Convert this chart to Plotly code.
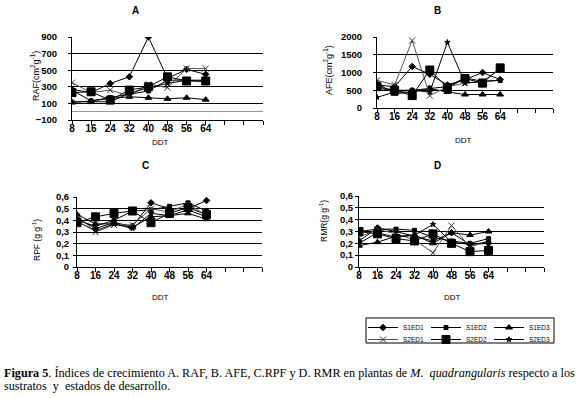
import plotly.graph_objects as go

W, H = 580, 398

ddt = [8, 16, 24, 32, 40, 48, 56, 64]
series_names = ["S1ED1", "S1ED2", "S1ED3", "S2ED1", "S2ED2", "S2ED3"]

# Panel A: RAF (cm2 g-1)
raf_s1ed1 = [270, 230, 340, 420, 900, 400, 510, 450]
raf_s1ed2 = [260, 130, 170, 210, 250, 380, 380, 360]
raf_s1ed3 = [110, 130, 160, 180, 168, 155, 168, 145]
raf_s2ed1 = [350, 230, 260, 190, 330, 290, 520, 520]
raf_s2ed2 = [230, 240, 140, 260, 300, 420, 370, 370]
raf_s2ed3 = [120, 120, 120, 220, 290, 340, 380, 380]

# Panel B: AFE (cm2 g-1)
afe_s1ed1 = [650, 600, 1170, 950, 650, 800, 1000, 800]
afe_s1ed2 = [550, 500, 500, 560, 600, 850, 750, 780]
afe_s1ed3 = [700, 400, 450, 550, 450, 380, 380, 380]
afe_s2ed1 = [780, 650, 1900, 350, 600, 700, 750, 1100]
afe_s2ed2 = [600, 500, 350, 1070, 570, 830, 700, 1130]
afe_s2ed3 = [300, 450, 500, 450, 1850, 700, 750, 780]

# Panel C: RPF (g g-1)
rpf_s1ed1 = [0.42, 0.33, 0.38, 0.35, 0.55, 0.50, 0.50, 0.57]
rpf_s1ed2 = [0.40, 0.35, 0.40, 0.48, 0.49, 0.52, 0.55, 0.48]
rpf_s1ed3 = [0.45, 0.37, 0.37, 0.34, 0.43, 0.44, 0.46, 0.41]
rpf_s2ed1 = [0.44, 0.30, 0.36, 0.36, 0.50, 0.47, 0.54, 0.44]
rpf_s2ed2 = [0.38, 0.43, 0.46, 0.48, 0.38, 0.46, 0.51, 0.45]
rpf_s2ed3 = [0.39, 0.31, 0.37, 0.33, 0.46, 0.44, 0.49, 0.43]

# Panel D: RMR (g g-1)
rmr_s1ed1 = [0.22, 0.33, 0.30, 0.26, 0.22, 0.29, 0.19, 0.20]
rmr_s1ed2 = [0.30, 0.32, 0.32, 0.31, 0.25, 0.22, 0.20, 0.24]
rmr_s1ed3 = [0.18, 0.21, 0.26, 0.27, 0.20, 0.29, 0.27, 0.30]
rmr_s2ed1 = [0.25, 0.32, 0.28, 0.23, 0.12, 0.35, 0.17, 0.22]
rmr_s2ed2 = [0.30, 0.28, 0.24, 0.22, 0.28, 0.20, 0.13, 0.14]
rmr_s2ed3 = [0.20, 0.29, 0.25, 0.27, 0.36, 0.21, 0.19, 0.21]

x_tickvals = [8, 16, 24, 32, 40, 48, 56, 64]
x_ticktext = ["8", "16", "24", "32", "40", "48", "56", "64"]
dec_vals = [0, 0.1, 0.2, 0.3, 0.4, 0.5, 0.6]
dec_text = ["0", "0,1", "0,2", "0,3", "0,4", "0,5", "0,6"]

styles = {
    "S1ED1": dict(symbol="diamond", size=5, color="black", lc="black"),
    "S1ED2": dict(symbol="square", size=4, color="black", lc="black"),
    "S1ED3": dict(symbol="triangle-up", size=6, color="black", lc="black"),
    "S2ED1": dict(symbol="x-thin-open", size=6, color="#333", lc="#555"),
    "S2ED2": dict(symbol="square", size=8, color="black", lc="black"),
    "S2ED3": dict(symbol="star", size=4, color="black", lc="black"),
}

panels = [
    ("x", "y", [raf_s1ed1, raf_s1ed2, raf_s1ed3, raf_s2ed1, raf_s2ed2, raf_s2ed3]),
    ("x2", "y2", [afe_s1ed1, afe_s1ed2, afe_s1ed3, afe_s2ed1, afe_s2ed2, afe_s2ed3]),
    ("x3", "y3", [rpf_s1ed1, rpf_s1ed2, rpf_s1ed3, rpf_s2ed1, rpf_s2ed2, rpf_s2ed3]),
    ("x4", "y4", [rmr_s1ed1, rmr_s1ed2, rmr_s1ed3, rmr_s2ed1, rmr_s2ed2, rmr_s2ed3]),
]

fig = go.Figure()
for pi, (xa, ya, data) in enumerate(panels):
    for name, vals in zip(series_names, data):
        st = styles[name]
        leg = "legend" if name.startswith("S1") else "legend2"
        fig.add_trace(go.Scatter(
            x=ddt, y=vals, name=name, xaxis=xa, yaxis=ya,
            mode="lines+markers",
            line=dict(color=st["lc"], width=1),
            marker=dict(symbol=st["symbol"], size=st["size"], color=st["color"],
                        line=dict(color=st["color"], width=1)),
            showlegend=(pi == 0), legend=leg,
        ))

def px_dom_x(a, b):
    return [a / W, b / W]

def px_dom_y(top, bottom):
    return [1 - bottom / H, 1 - top / H]

xtickfont = dict(family="Liberation Sans", size=10, color="black", weight="bold")
ytickfont = dict(family="Liberation Sans", size=9.5, color="black", weight="bold")

def xaxis(dom, anchor):
    return dict(domain=dom, anchor=anchor, range=[8, 88], tickmode="array",
                tickvals=x_tickvals, ticktext=x_ticktext, tickangle=0,
                showgrid=False, zeroline=False, showline=True, linecolor="black",
                linewidth=1, ticks="outside", ticklen=4, tickcolor="black",
                tickfont=xtickfont, automargin=False, ticklabelstandoff=-5,
                minor=dict(dtick=8, tick0=8, ticks="outside", ticklen=4,
                           tickcolor="black", showgrid=False))

def yaxis(dom, anchor, rng, dtick, fmt_vals=None, fmt_text=None, zeroline=False, standoff=0):
    d = dict(domain=dom, anchor=anchor, range=rng, showgrid=True,
             gridcolor="black", gridwidth=1, showline=True, linecolor="black",
             linewidth=1, ticks="outside", ticklen=3, tickcolor="black",
             tickfont=ytickfont, zeroline=zeroline, zerolinecolor="#999",
             zerolinewidth=1, automargin=False, ticklabelstandoff=standoff)
    if fmt_vals is not None:
        d.update(tickmode="array", tickvals=fmt_vals, ticktext=fmt_text)
    else:
        d.update(dtick=dtick, tick0=rng[0])
    return d

legend_common = dict(orientation="h", xanchor="left", yanchor="top",
                     font=dict(size=6.5, family="Liberation Sans", color="black"),
                     itemwidth=30, entrywidth=18, entrywidthmode="pixels",
                     bgcolor="rgba(0,0,0,0)", borderwidth=0, tracegroupgap=0)

fig.update_layout(
    width=W, height=H,
    margin=dict(l=0, r=0, t=0, b=0, pad=0, autoexpand=False),
    paper_bgcolor="white", plot_bgcolor="white",
    font=dict(family="Liberation Sans", color="black"),
    xaxis=xaxis(px_dom_x(72, 263), "y"),
    yaxis=yaxis(px_dom_y(37, 120), "x", [-100, 900], 200, zeroline=True, standoff=9),
    xaxis2=xaxis(px_dom_x(377, 553), "y2"),
    yaxis2=yaxis(px_dom_y(37, 108), "x2", [0, 2000], 500, standoff=9),
    xaxis3=xaxis(px_dom_x(77, 262), "y3"),
    yaxis3=yaxis(px_dom_y(197, 267), "x3", [0, 0.6], 0.1, dec_vals, dec_text, standoff=2),
    xaxis4=xaxis(px_dom_x(359, 544), "y4"),
    yaxis4=yaxis(px_dom_y(196, 267), "x4", [0, 0.6], 0.1, dec_vals, dec_text),
    legend=dict(legend_common, x=363 / W, y=1 - 313 / H),
    legend2=dict(legend_common, x=363 / W, y=1 - 325 / H),
    shapes=[dict(type="rect", xref="paper", yref="paper",
                 x0=366 / W, x1=554 / W, y0=1 - 343 / H, y1=1 - 318 / H,
                 line=dict(color="black", width=1), fillcolor="rgba(0,0,0,0)")],
)

def ann(text, x, y, size=10, bold=False, angle=0, family="Liberation Sans", xanchor="center"):
    t = f"<b>{text}</b>" if bold else text
    fig.add_annotation(text=t, x=x / W, y=1 - y / H, xref="paper", yref="paper",
                       showarrow=False, textangle=angle, xanchor=xanchor, yanchor="middle",
                       font=dict(size=size, family=family, color="black"))

# panel titles
ann("A", 135, 10, 10, True)
ann("B", 437, 10, 10, True)
ann("C", 145, 166, 10, True)
ann("D", 437, 166, 10, True)
# x titles
ann("DDT", 160, 142, 8)
ann("DDT", 463, 141, 8)
ann("DDT", 160, 297, 8)
ann("DDT", 452, 297, 8)
# y titles
ann("RAF(cm<sup>2</sup>g<sup>-1</sup>)", 35, 76, 9, angle=-90)
ann("AFE(cm<sup>2</sup>g<sup>-1</sup>)", 328, 70, 9, angle=-90)
ann("RPF (g g<sup>-1</sup>)", 37, 240, 8.5, angle=-90)
ann("RMR(g g<sup>-1</sup>)", 323, 221, 8.5, angle=-90)

# caption
cap1 = ("<b>Figura 5</b>. Índices de crecimiento A. RAF, B. AFE, C.RPF y D. RMR en plantas de "
        "<i>M.  quadrangularis</i> respecto a los")
cap2 = "sustratos  y  estados de desarrollo."
ann(cap1, 2, 373, 12.2, family="Liberation Serif", xanchor="left")
ann(cap2, 2, 386, 12.2, family="Liberation Serif", xanchor="left")

fig.write_html("out.html", config={"displayModeBar": False},
               post_script="document.body.style.margin='0';document.body.style.padding='0';")
